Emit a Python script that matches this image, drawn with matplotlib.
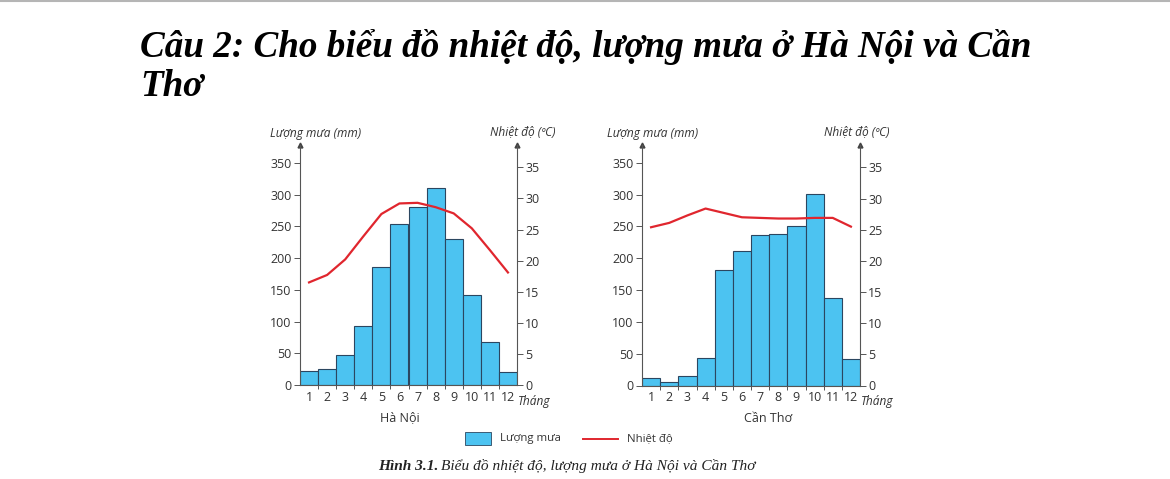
import matplotlib
matplotlib.use("Agg")
import matplotlib.pyplot as plt
from matplotlib.patches import Rectangle
from matplotlib.lines import Line2D

months = list(range(1, 13))
month_labels = [str(m) for m in months]
rain_hanoi = [22.6, 24.7, 47.2, 92.3, 185.7, 253.4, 279.6, 309.6, 229.3, 141.1, 67.7, 19.9]
temp_hanoi = [16.5, 17.7, 20.2, 23.9, 27.5, 29.2, 29.3, 28.6, 27.6, 25.2, 21.7, 18.1]
rain_cantho = [11.5, 5.2, 15.7, 42.5, 181.0, 211.0, 236.6, 238.0, 251.0, 301.0, 137.5, 42.0]
temp_cantho = [25.4, 26.1, 27.3, 28.4, 27.7, 27.0, 26.9, 26.8, 26.8, 26.9, 26.9, 25.5]
rain_ticks = [0, 50, 100, 150, 200, 250, 300, 350]
temp_ticks = [0, 5, 10, 15, 20, 25, 30, 35]

W, H = 1170, 479
fig = plt.figure(figsize=(W / 100, H / 100), dpi=100)

def fx(x):
    return x / W

def fy(y):
    return 1 - y / H

BAR = "#4cc3f1"
EDGE = "#2b4660"
RED = "#e0262e"
TXT = "#333333"
SANS = ["Open Sans", "DejaVu Sans"]
SERIF = ["Liberation Serif", "DejaVu Serif"]

# top gray rule
fig.add_artist(Line2D([0, 1], [fy(1), fy(1)], color="#b5b5b5", lw=1.5))

# title
fig.text(fx(140), fy(57), "Câu 2: Cho biểu đồ nhiệt độ, lượng mưa ở Hà Nội và Cần",
         family=SERIF, fontsize=26.7, fontweight="bold", style="italic", va="baseline")
fig.text(fx(140), fy(96), "Thơ", family=SERIF, fontsize=26.7, fontweight="bold",
         style="italic", va="baseline")

def panel(x0, x1, y0, rain, temp, name, lx, rx, cx):
    ytop = 145
    ax = fig.add_axes([fx(x0), fy(y0), fx(x1) - fx(x0), (y0 - ytop) / H])
    ax.bar(months, rain, width=1.0, color=BAR, edgecolor=EDGE, linewidth=0.8, zorder=2)
    ax.set_xlim(0.5, 12.5)
    ax.set_ylim(0, 378)
    ax.set_yticks(rain_ticks)
    ax.set_xticks(months)
    ax.set_xticklabels(month_labels)
    ax.set_xticks([m + 0.5 for m in months[:-1]], minor=True)
    ax.tick_params(axis="x", which="major", length=0, pad=4, labelsize=9, colors=TXT)
    ax.tick_params(axis="x", which="minor", length=3, width=0.7, color="#555555")
    ax.tick_params(axis="y", length=4, width=0.7, pad=2, labelsize=9, colors=TXT, color="#555555")
    for lab in ax.get_xticklabels() + ax.get_yticklabels():
        lab.set_family(SANS)
    for s in ["top", "right"]:
        ax.spines[s].set_visible(False)
    for s in ["left", "bottom"]:
        ax.spines[s].set_color("#555555")
        ax.spines[s].set_linewidth(0.8)
    ax.set_facecolor("none")
    ax2 = ax.twinx()
    ax2.plot(months, temp, color=RED, lw=1.6, zorder=3)
    ax2.set_ylim(0, 38.6)
    ax2.set_yticks(temp_ticks)
    ax2.tick_params(axis="y", length=4, width=0.7, pad=2, labelsize=9, colors=TXT, color="#555555")
    for lab in ax2.get_yticklabels():
        lab.set_family(SANS)
    for s in ["top", "left", "bottom"]:
        ax2.spines[s].set_visible(False)
    ax2.spines["right"].set_color("#555555")
    ax2.spines["right"].set_linewidth(0.8)
    # arrows
    for xa in (0, 1):
        ax.plot([xa], [1.0], marker="^", markersize=3.5, color="#444444",
                transform=ax.transAxes, clip_on=False)
    fig.text(fx(lx), fy(133), "Lượng mưa (mm)", family=SANS, fontsize=8.6,
             style="italic", color=TXT, va="center")
    fig.text(fx(rx), fy(133), "Nhiệt độ (ºC)", family=SANS, fontsize=8.6,
             style="italic", color=TXT, va="center", ha="right")
    fig.text(fx(x1 + 1), fy(401), "Tháng", family=SANS, fontsize=8.6,
             style="italic", color=TXT, va="center")
    fig.text(fx(cx), fy(418), name, family=SANS, fontsize=9,
             color=TXT, va="center", ha="center")
    return ax

panel(300, 517, 385, rain_hanoi, temp_hanoi, "Hà Nội", 270, 556, 400)
panel(642, 860, 385.5, rain_cantho, temp_cantho, "Cần Thơ", 607, 890, 768)

# legend
fig.add_artist(Rectangle((fx(465), fy(445)), fx(491) - fx(465), fy(432) - fy(445),
                         facecolor=BAR, edgecolor=EDGE, lw=0.6))
fig.text(fx(500), fy(438.5), "Lượng mưa", family=SANS, fontsize=8.2, color=TXT, va="center")
fig.add_artist(Line2D([fx(583), fx(618)], [fy(439), fy(439)], color=RED, lw=1.4))
fig.text(fx(627), fy(438.5), "Nhiệt độ", family=SANS, fontsize=8.2, color=TXT, va="center")

# caption
t1 = fig.text(fx(378), fy(470), "Hình 3.1.", family=SERIF, fontsize=11.1, fontweight="bold",
              style="italic", color="#222222", va="baseline")
fig.canvas.draw()
bb = t1.get_window_extent(fig.canvas.get_renderer())
fig.text(bb.x1 / W + fx(3), fy(470), "Biểu đồ nhiệt độ, lượng mưa ở Hà Nội và Cần Thơ",
         family=SERIF, fontsize=11.1, style="italic", color="#222222", va="baseline")

fig.savefig("out.png", dpi=100, facecolor="white")
